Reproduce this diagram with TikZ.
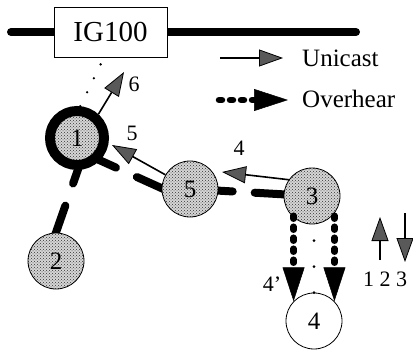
\documentclass[tikz,border=0pt]{standalone}
\usepackage{fontspec}
\setmainfont{Liberation Serif}
\usetikzlibrary{arrows.meta,calc,patterns,backgrounds}

\begin{document}
\begin{tikzpicture}[x=1pt,y=-1pt,
  % stations of the mesh
  station/.style={circle, draw, line width=0.8pt, minimum size=56pt, inner sep=0pt,
                  font=\fontsize{25}{25}\selectfont},
  stippled/.style={station, preaction={fill=black!16}, pattern=crosshatch dots, pattern color=black!80},
  plain/.style={station, fill=white},
  gateway/.style={stippled, line width=10pt, minimum size=54pt},
  % wires and links
  bus/.style={line width=8pt, line cap=round},
  link/.style={line width=8pt, line cap=round},
  % transmissions
  unicast/.style={line width=1.6pt, -{Triangle[length=24pt,width=17pt,fill=black!65,line width=0.8pt]}},
  overhear/.style={line width=6.5pt, line cap=round, dash pattern=on 3pt off 8pt,
                   -{Triangle[length=34pt,width=22pt,line width=0.5pt]}},
  dotline/.style={line width=2.6pt, line cap=round, dash pattern=on 0pt off 15.5pt},
  middots/.style={line width=3pt, line cap=round, dash pattern=on 0pt off 26pt},
  lbl/.style={font=\fontsize{22}{22}\selectfont, inner sep=0pt},
  legend/.style={font=\fontsize{25}{25}\selectfont, inner sep=0pt, anchor=base west}
]
\useasboundingbox (0,0) rectangle (413,353);

% gateway box on the wired backbone
\node[draw, line width=0.8pt, fill=white, minimum width=113pt, minimum height=50pt,
      inner sep=0pt, font=\fontsize{29}{29}\selectfont] (ig) at (110.5,32) {IG100};
\coordinate (busL) at (11,32);
\coordinate (busR) at (356,32);

% mesh stations
\node[gateway]  (n1) at (77,138)  {1};
\node[stippled] (n2) at (56,261)  {2};
\node[stippled] (n5) at (190,189) {5};
\node[stippled] (n3) at (312,196) {3};
\node[plain]    (n4) at (314,321) {4};

% backbone and broken mesh links, behind everything else
\begin{scope}[on background layer]
  \fill[white] (0,0) rectangle (413,353);
  \draw[bus] (busL) -- (busR);
  \coordinate (a12) at ($(n1)+(12,0)$);
  \coordinate (b12) at ($(n2)+(-10,0)$);
  \draw[link] ($(a12)!0.2!(b12)$) -- ($(a12)!0.37!(b12)$);
  \draw[link] ($(a12)!0.55!(b12)$) -- ($(a12)!0.85!(b12)$);
  \coordinate (a15) at ($(n1)+(0,12)$);
  \coordinate (b15) at ($(n5)+(0,12)$);
  \draw[link] ($(a15)!0.15!(b15)$) -- ($(a15)!0.345!(b15)$);
  \draw[link] ($(a15)!0.53!(b15)$) -- ($(a15)!0.85!(b15)$);
  \draw[link] ($(n5)!0.15!(n3)$) -- ($(n5)!0.35!(n3)$);
  \draw[link] ($(n5)!0.53!(n3)$) -- ($(n5)!0.85!(n3)$);
\end{scope}

% station 1 to the gateway
\draw[dotline] (n1.84) -- ($(ig.south)+(-6.5,0)$);

% unicast hops 4, 5 and 6
\coordinate (t6) at (124,72);
\coordinate (t5) at (112,145);
\coordinate (t4) at (222,172);
\draw[unicast] (n1.48) -- (t6);
\draw[unicast] (n5.150) -- (t5);
\draw[unicast] (n3.145) -- (t4);
\node[lbl] (l6) at (134,84) {6};
\node[lbl] (l5) at (132,133) {5};
\node[lbl] (l4) at (239,148) {4};

% station 4 overhears station 3
\draw[overhear] (n4.136 |- n3.224) -- (n4.136);
\draw[overhear] (n4.44 |- n3.316) -- (n4.44);
\draw[middots] (n4.north) -- (n4.north |- n3.south);
\node[lbl] (l4p) at (272,284) {4’};

% legend
\coordinate (u1) at (220,58);
\coordinate (u2) at (283,58);
\coordinate (o1) at (219,100);
\coordinate (o2) at (288,100);
\draw[unicast] (u1) -- (u2);
\draw[overhear] (o1) -- (o2);
\node[legend] (lu) at (302,67) {Unicast};
\node[legend] (lo) at (302,108) {Overhear};

% direction key
\coordinate (up1) at (380,260);
\coordinate (up2) at (380,217);
\coordinate (dn1) at (405,213);
\coordinate (dn2) at (405,262);
\draw[unicast] (up1) -- (up2);
\draw[unicast] (dn1) -- (dn2);
\node[lbl] (k123) at (385,279) {1 2 3};
\end{tikzpicture}
\end{document}
